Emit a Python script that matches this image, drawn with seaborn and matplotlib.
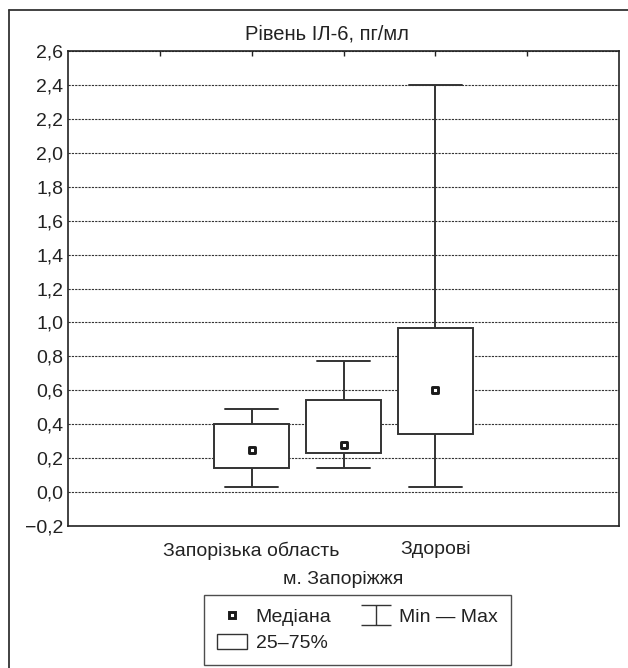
import numpy as np
import pandas as pd
import matplotlib
matplotlib.use('Agg')
import matplotlib.pyplot as plt
from matplotlib.lines import Line2D
from matplotlib.patches import Patch
from matplotlib.path import Path
from matplotlib.ticker import FuncFormatter
import seaborn as sns

# -----------------------------------------------------------
# DATA
# -----------------------------------------------------------
groups = ['Запорізька область', 'м. Запоріжжя', 'Здорові']
mins = [0.03, 0.14, 0.03]
q1 = [0.14, 0.23, 0.34]
medians = [0.25, 0.28, 0.60]
q3 = [0.40, 0.54, 0.97]
maxs = [0.49, 0.77, 2.40]

title = 'Рівень ІЛ-6, пг/мл'
legend_labels = ['Медіана', '25–75%', 'Min — Max']

# five summary points per group -> percentiles 0/25/50/75/100 reproduce them
rows = []
for g, a, b, c, d, e in zip(groups, mins, q1, medians, q3, maxs):
    for v in (a, b, c, d, e):
        rows.append({'group': g, 'value': v})
df = pd.DataFrame(rows)

# -----------------------------------------------------------
# STYLE
# -----------------------------------------------------------
sns.set_theme(style='white')
plt.rcParams['font.family'] = ['Liberation Sans', 'DejaVu Sans']
plt.rcParams['text.color'] = '#222222'
plt.rcParams['xtick.color'] = '#222222'
plt.rcParams['ytick.color'] = '#222222'
line_col = '#333333'

fig = plt.figure(figsize=(6.28, 6.68), dpi=100)
ax = fig.add_axes([68 / 628, 1 - 526 / 668, (619 - 68) / 628, (526 - 51) / 668])

# -----------------------------------------------------------
# BOXES
# -----------------------------------------------------------
sns.boxplot(data=df, x='group', y='value', order=groups, whis=(0, 100),
            width=0.81, color='white', linecolor=line_col, linewidth=1.4,
            medianprops=dict(visible=False), capwidths=0.57, ax=ax)

sns.scatterplot(x=groups, y=medians, marker='s', s=21, color='white',
                edgecolor='#1a1a1a', linewidth=2.1, zorder=5, ax=ax,
                legend=False)

# -----------------------------------------------------------
# AXES
# -----------------------------------------------------------
ax.set_xlim(-2, 4)
ax.set_ylim(-0.2, 2.6)
ax.set_yticks(np.arange(-0.2, 2.61, 0.2))
ax.yaxis.set_major_formatter(FuncFormatter(
    lambda v, p: f'{v:.1f}'.replace('.', ',').replace('-', '−')
    if abs(v) > 1e-9 else '0,0'))

# Statistica-style staggered labels: 1st and 3rd on the first row
ax.set_xticks([-1, 0, 1, 2, 3], labels=['', groups[0], '', groups[2], ''])
ax.text(groups.index(groups[1]), -45 / 475, groups[1],
        transform=ax.get_xaxis_transform(), ha='center', va='top',
        fontsize=14)
ax.set_xlabel('')
ax.set_ylabel('')

ax.tick_params(axis='x', which='major', direction='in', top=True,
               length=3.6, width=1, pad=11, labelsize=14)
ax.tick_params(axis='y', length=0, pad=3.5, labelsize=14)

ax.set_axisbelow(True)
ax.yaxis.grid(True, linestyle=(0, (2, 1)), color='#333333', linewidth=0.8)
ax.xaxis.grid(False)
for s in ax.spines.values():
    s.set_visible(True)
    s.set_color('#222222')
    s.set_linewidth(1.2)

# title and outer frame
fig.text(327 / 628, 1 - 39 / 668, title, ha='center', va='baseline',
         fontsize=14.5)
fig.add_artist(Line2D([9 / 628, 9 / 628], [0, 1 - 10 / 668],
                      transform=fig.transFigure, color=line_col, lw=1.3))
fig.add_artist(Line2D([9 / 628, 1], [1 - 10 / 668, 1 - 10 / 668],
                      transform=fig.transFigure, color=line_col, lw=1.3))

# -----------------------------------------------------------
# LEGEND
# -----------------------------------------------------------
ibeam = Path([(-1, 0.67), (1, 0.67), (0, 0.67), (0, -0.67), (-1, -0.67), (1, -0.67)],
             [Path.MOVETO, Path.LINETO, Path.MOVETO, Path.LINETO,
              Path.MOVETO, Path.LINETO])
h_med = Line2D([], [], ls='none', marker='s', ms=4.6, mfc='white',
               mec='#1a1a1a', mew=2.1)
h_box = Patch(facecolor='white', edgecolor=line_col, lw=1)
h_mm = Line2D([], [], ls='none', marker=ibeam, ms=21.6, mfc='none',
              mec=line_col, mew=1)
leg = fig.legend([h_med, h_box, h_mm], legend_labels, ncol=2,
                 loc='upper left', bbox_to_anchor=(204 / 628, 1 - 595 / 668),
                 fontsize=14, frameon=True, fancybox=False, borderpad=0.65,
                 handlelength=1.55, handleheight=0.85, handletextpad=0.45,
                 columnspacing=1.5, labelspacing=0.4, borderaxespad=0)
leg.get_frame().set_edgecolor('#222222')
leg.get_frame().set_linewidth(1.0)

fig.savefig('out.png', dpi=100)
